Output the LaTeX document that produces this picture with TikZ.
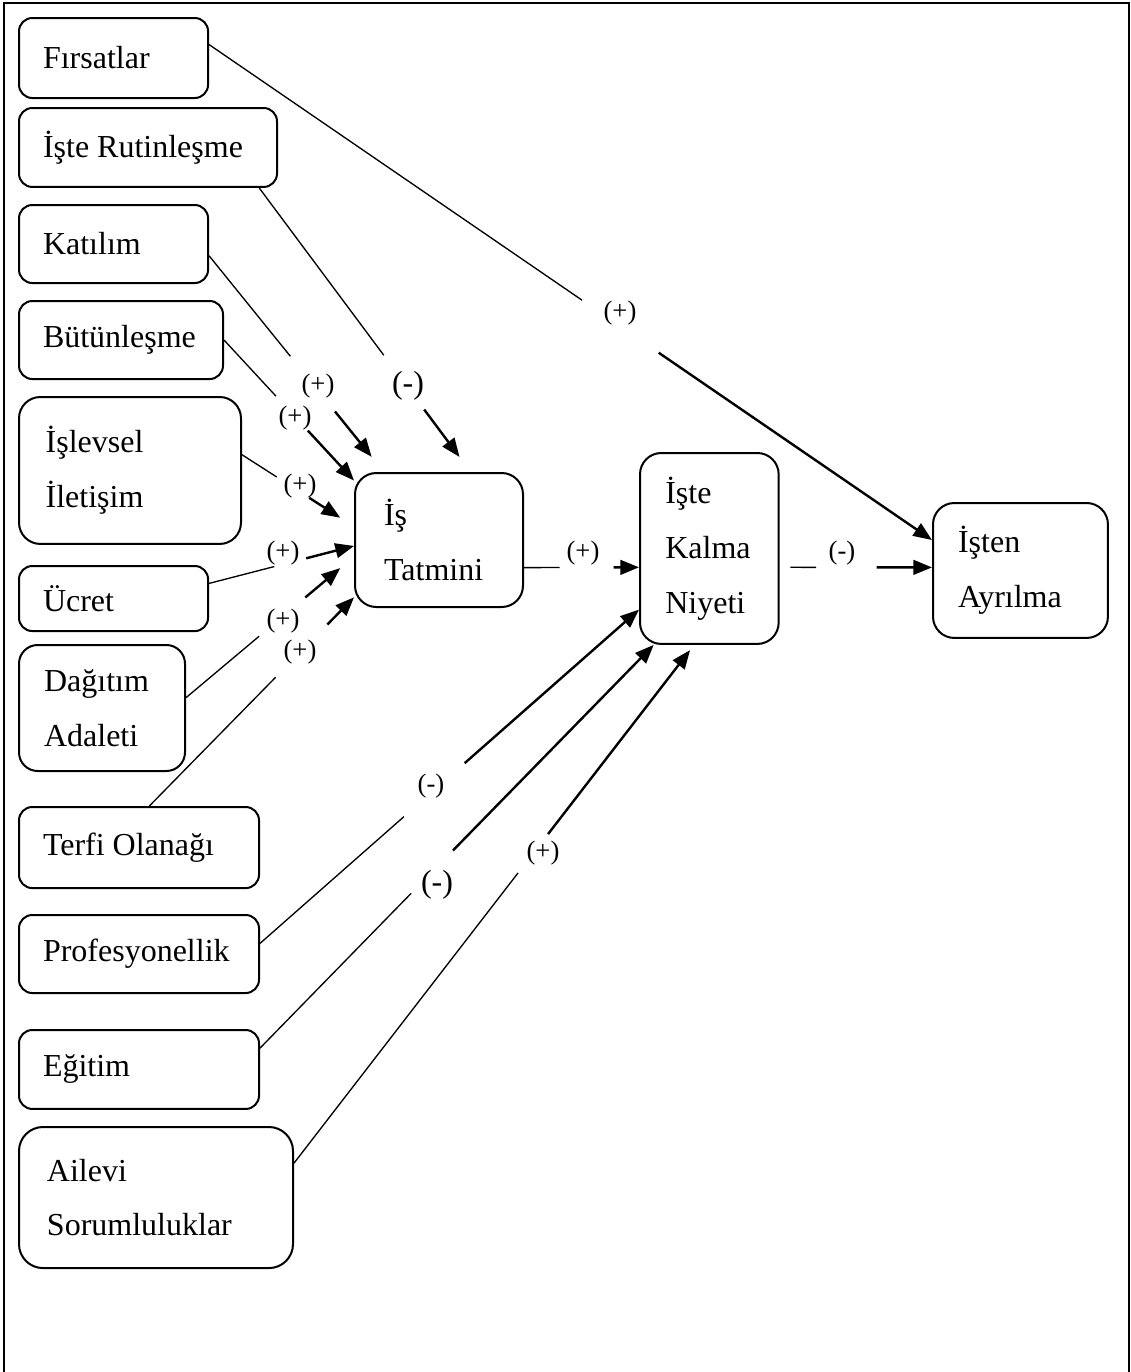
\documentclass[tikz,border=0pt]{standalone}
\usepackage{fontspec}
\setmainfont{Liberation Serif}
\usetikzlibrary{arrows.meta,calc}

\tikzset{
  kutu/.style={draw, line width=0.75pt, rounded corners=5pt, align=flush left,
    anchor=north west, inner xsep=9pt, inner ysep=0pt,
    font=\fontsize{12}{20.6}\selectfont},
  genis/.style={rounded corners=8pt},
  ince/.style={line width=0.5pt},
  okcizgi/.style={line width=0.9pt, -{Triangle[length=7pt,width=5.5pt]}},
  etiket/.style={inner sep=0pt, font=\fontsize{10}{12}\selectfont},
  buyuk/.style={font=\fontsize{12}{14}\selectfont}
}

\begin{document}
\begin{tikzpicture}[x=0.375pt, y=-0.375pt]

    \useasboundingbox (0,0) rectangle (1131,1372);

    % frame
    \draw[line width=0.9pt] (4,1380) -- (4,3) -- (1129,3) -- (1129,1380);

    % left column
    \node[kutu, text width=52.9pt, minimum height=30pt] (firsat) at (18,17) {Fırsatlar};
    \node[kutu, text width=78.75pt, minimum height=29.6pt] (rutin) at (18,107) {İşte Rutinleşme};
    \node[kutu, text width=52.9pt, minimum height=29.25pt] (katilim) at (18,204) {Katılım};
    \node[kutu, text width=58.5pt, minimum height=29.25pt] (butun) at (18,300) {Bütünleşme};
    \node[kutu, genis, inner xsep=10pt, text width=63.25pt, minimum height=55.1pt] (islev) at (18,396) {İşlevsel\\İletişim};
    \node[kutu, text width=52.9pt, minimum height=24.4pt] (ucret) at (18,565) {\raisebox{-2pt}{Ücret}};
    \node[kutu, genis, rounded corners=7pt, inner xsep=9.4pt, text width=43.45pt, minimum height=47.25pt] (dagitim) at (18,644) {Dağıtım\\Adaleti};
    \node[kutu, text width=72pt, minimum height=30.4pt] (terfi) at (18,806) {Terfi Olanağı};
    \node[kutu, text width=72pt, minimum height=29.25pt] (profes) at (18,914) {Profesyonellik};
    \node[kutu, text width=72pt, minimum height=29.6pt] (egitim) at (18,1029) {Eğitim};
    \node[kutu, genis, rounded corners=9pt, inner xsep=10.5pt, text width=81.75pt, minimum height=52.9pt] (ailevi) at (18,1126) {Ailevi\\Sorumluluklar};

    % middle and right
    \node[kutu, genis, inner xsep=10.9pt, text width=41.2pt, minimum height=50.25pt] (tatmin) at (354,472) {İş\\Tatmini};
    \node[kutu, genis, inner xsep=9.5pt, text width=33pt, minimum height=71.6pt] (kalma) at (639,452) {İşte\\Kalma\\Niyeti};
    \node[kutu, genis, inner xsep=9.4pt, text width=46.8pt, minimum height=50.6pt] (ayril) at (932,502) {İşten\\Ayrılma};

    % Fırsatlar
    \draw[ince] (firsat.8) -- ($(firsat.8)!0.516!(ayril.161)$);
    \draw[okcizgi] ($(firsat.8)!0.622!(ayril.161)$) -- (ayril.161);
    \node[etiket] (e1) at (620,313) {(+)};

    % İşte Rutinleşme
    \draw[ince] (rutin.340) -- ($(rutin.340)!0.589!(tatmin.65)$);
    \draw[okcizgi] ($(rutin.340)!0.78!(tatmin.65)$) -- ($(rutin.340)!0.947!(tatmin.65)$);
    \node[etiket, buyuk] (e2) at (408,386) {(-)};

    % Katılım
    \draw[ince] (katilim.-7) -- ($(katilim.-7)!0.465!(tatmin.129)$);
    \draw[okcizgi] ($(katilim.-7)!0.72!(tatmin.129)$) -- ($(katilim.-7)!0.93!(tatmin.129)$);
    \node[etiket] (e3) at (318,386) {(+)};

    % Bütünleşme
    \draw[ince] (butun.east) -- ($(butun.east)!0.40!(tatmin.145)$);
    \draw[okcizgi] ($(butun.east)!0.645!(tatmin.145)$) -- (tatmin.145);
    \node[etiket] (e4) at (295,418) {(+)};

    % İşlevsel İletişim
    \draw[ince] (islev.8) -- ($(islev.8)!0.31!(tatmin.171)$);
    \draw[okcizgi] ($(islev.8)!0.6!(tatmin.171)$) -- ($(islev.8)!0.877!(tatmin.171)$);
    \node[etiket] (e5) at (300,486) {(+)};

    % Ücret
    \draw[ince] (ucret.9) -- ($(ucret.9)!0.45!(tatmin.184)$);
    \draw[okcizgi] ($(ucret.9)!0.67!(tatmin.184)$) -- (tatmin.184);
    \node[etiket] (e6) at (283,553) {(+)};

    % Dağıtım Adaleti
    \draw[ince] (dagitim.7) -- ($(dagitim.7)!0.435!(tatmin.191)$);
    \draw[okcizgi] ($(dagitim.7)!0.71!(tatmin.191)$) -- ($(dagitim.7)!0.918!(tatmin.191)$);
    \node[etiket] (e7) at (283,621) {(+)};

    % Terfi Olanağı
    \draw[ince] (terfi.76) -- ($(terfi.76)!0.617!(tatmin.214)$);
    \draw[okcizgi] ($(terfi.76)!0.87!(tatmin.214)$) -- (tatmin.214);
    \node[etiket] (e8) at (300,652) {(+)};

    % Profesyonellik
    \draw[ince] (profes.5) -- ($(profes.5)!0.38!(kalma.221)$);
    \draw[okcizgi] ($(profes.5)!0.54!(kalma.221)$) -- (kalma.221);
    \node[etiket] (e9) at (431,786) {(-)};

    % Eğitim
    \draw[ince] (egitim.10) -- ($(egitim.10)!0.384!(kalma.240)$);
    \draw[okcizgi] ($(egitim.10)!0.49!(kalma.240)$) -- (kalma.240);
    \node[etiket, buyuk] (e10) at (437,885) {(-)};

    % Ailevi Sorumluluklar
    \draw[ince] (ailevi.14) -- ($(ailevi.14)!0.56!(kalma.261)$);
    \draw[okcizgi] ($(ailevi.14)!0.635!(kalma.261)$) -- ($(ailevi.14)!0.99!(kalma.261)$);
    \node[etiket] (e11) at (543,853) {(+)};

    % İş Tatmini
    \draw[ince] (tatmin.-18) -- ($(tatmin.-18)!0.31!(kalma.195)$);
    \draw[okcizgi] ($(tatmin.-18)!0.78!(kalma.195)$) -- (kalma.195);
    \node[etiket] (e12) at (583,553) {(+)};

    % İşte Kalma Niyeti
    \draw[ince] ($(kalma.-15)!0.07!(ayril.178)$) -- ($(kalma.-15)!0.24!(ayril.178)$);
    \draw[okcizgi] ($(kalma.-15)!0.636!(ayril.178)$) -- (ayril.178);
    \node[etiket] (e13) at (842,553) {(-)};

\end{tikzpicture}
\end{document}
